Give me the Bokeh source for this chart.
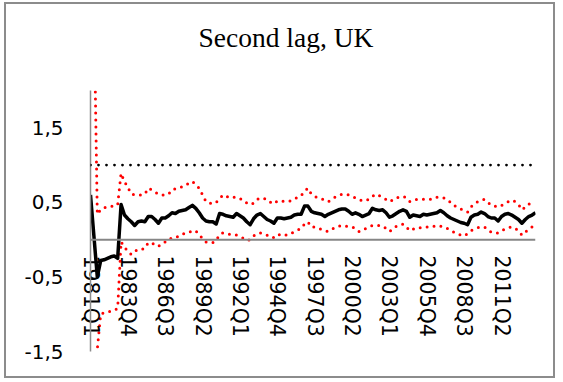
import numpy as np
from bokeh.plotting import figure
from bokeh.models import (Range1d, FixedTicker, CustomJSTickFormatter, Span,
                          ColumnDataSource, LinearAxis, Title)
from bokeh.embed import file_html
from bokeh.resources import INLINE

# ---------------- data ----------------
quarters = [f"{y}Q{q}" for y in range(1981, 2014) for q in range(1, 5)]  # 1981Q1..2013Q4

estimate = [0.60, 0.05, -0.50, -0.28, -0.27, -0.25, -0.23, -0.22, -0.25, 0.47,
            0.33, 0.28, 0.24, 0.19, 0.24, 0.25, 0.24, 0.31, 0.31, 0.27,
            0.22, 0.29, 0.29, 0.32, 0.36, 0.35, 0.38, 0.39, 0.40, 0.43,
            0.46, 0.42, 0.36, 0.29, 0.25, 0.24, 0.24, 0.21, 0.35, 0.34,
            0.32, 0.31, 0.30, 0.35, 0.32, 0.29, 0.24, 0.20, 0.28, 0.33,
            0.35, 0.31, 0.27, 0.25, 0.22, 0.29, 0.29, 0.28, 0.29, 0.30,
            0.33, 0.34, 0.34, 0.45, 0.45, 0.38, 0.36, 0.35, 0.34,
            0.31, 0.34, 0.36, 0.38, 0.40, 0.41, 0.41, 0.38, 0.34, 0.36,
            0.34, 0.31, 0.33, 0.35, 0.42, 0.40, 0.39, 0.40, 0.36, 0.30,
            0.32, 0.35, 0.38, 0.40, 0.38, 0.30, 0.33, 0.32, 0.31, 0.34,
            0.33, 0.34, 0.35, 0.36, 0.39, 0.36, 0.32, 0.29, 0.27, 0.25,
            0.23, 0.22, 0.20, 0.30, 0.33, 0.34, 0.37, 0.35, 0.31, 0.29,
            0.29, 0.25, 0.31, 0.34, 0.35, 0.33, 0.30, 0.27, 0.22, 0.27,
            0.31, 0.33, 0.36]

upper = [np.nan, 3.20, 0.34, 0.40, 0.43, 0.43, 0.44, 0.46, 0.47, 0.89,
         0.78, 0.70, 0.61, 0.60, 0.60, 0.60, 0.61, 0.69, 0.67, 0.64,
         0.61, 0.60, 0.60, 0.61, 0.67, 0.68, 0.69, 0.71, 0.74, 0.75,
         0.78, 0.74, 0.69, 0.60, 0.51, 0.49, 0.48, 0.50, 0.55, 0.60,
         0.58, 0.56, 0.57, 0.57, 0.55, 0.53, 0.49, 0.47, 0.49, 0.54,
         0.56, 0.55, 0.54, 0.50, 0.48, 0.52, 0.52, 0.51, 0.51, 0.52,
         0.54, 0.57, 0.59, 0.65, 0.69, 0.61, 0.58, 0.56, 0.55,
         0.53, 0.51, 0.54, 0.57, 0.59, 0.61, 0.61, 0.60, 0.58, 0.56,
         0.54, 0.52, 0.53, 0.54, 0.58, 0.61, 0.59, 0.57, 0.54, 0.51,
         0.53, 0.56, 0.57, 0.58, 0.56, 0.51, 0.53, 0.54, 0.54, 0.54,
         0.54, 0.54, 0.55, 0.57, 0.57, 0.56, 0.54, 0.50, 0.46, 0.43,
         0.41, 0.39, 0.37, 0.44, 0.48, 0.51, 0.53, 0.54, 0.50, 0.46,
         0.45, 0.44, 0.46, 0.48, 0.51, 0.53, 0.51, 0.47, 0.40, 0.44,
         0.48, 0.46, 0.47]

lower = [np.nan, -3.50, -1.47, -1.00, -0.98, -0.97, -0.96, -0.95, -0.92, -0.03,
         -0.10, -0.16, -0.20, -0.16, -0.13, -0.13, -0.12, -0.04, -0.05, -0.06,
         -0.09, -0.05, -0.03, 0.01, 0.02, 0.02, 0.05, 0.07, 0.09, 0.10,
         0.12, 0.12, 0.06, 0.02, -0.03, -0.04, -0.04, -0.01, 0.07, 0.09,
         0.08, 0.07, 0.07, 0.06, 0.04, 0.02, -0.01, 0.00, 0.05, 0.08,
         0.09, 0.08, 0.06, 0.03, 0.03, 0.07, 0.06, 0.05, 0.07, 0.08,
         0.11, 0.13, 0.15, 0.21, 0.24, 0.17, 0.17, 0.15, 0.14,
         0.12, 0.11, 0.14, 0.16, 0.18, 0.19, 0.18, 0.18, 0.17, 0.15,
         0.11, 0.12, 0.15, 0.17, 0.19, 0.19, 0.19, 0.18, 0.15, 0.11,
         0.14, 0.18, 0.19, 0.21, 0.17, 0.12, 0.14, 0.16, 0.16, 0.16,
         0.17, 0.17, 0.18, 0.19, 0.18, 0.17, 0.15, 0.12, 0.10, 0.08,
         0.06, 0.05, 0.08, 0.12, 0.14, 0.16, 0.17, 0.17, 0.13, 0.10,
         0.09, 0.09, 0.12, 0.14, 0.16, 0.17, 0.15, 0.12, 0.06, 0.10,
         0.14, 0.17, 0.18]

threshold = 1.0

x_tick_labels = ["1981Q1", "1983Q4", "1986Q3", "1989Q2", "1992Q1", "1994Q4",
                 "1997Q3", "2000Q2", "2003Q1", "2005Q4", "2008Q3", "2011Q2"]
y_ticks = [-1.5, -0.5, 0.5, 1.5]
y_tick_labels = ["-1,5", "-0,5", "0,5", "1,5"]

title_text = "Second lag, UK"

# ---------------- figure ----------------
n = len(quarters)
xs = np.arange(n)
src = ColumnDataSource(dict(x=xs,
                            est=np.array(estimate, dtype=float),
                            up=np.array(upper, dtype=float),
                            lo=np.array(lower, dtype=float)))

p = figure(width=551, height=376, output_backend="svg", toolbar_location=None,
           x_range=Range1d(0, n - 1), y_range=Range1d(-1.5, 2.0),
           x_axis_location=None,
           min_border_left=84, min_border_right=22,
           min_border_top=86, min_border_bottom=29)
p.styles = {"border": "2px solid #8c8c8c", "margin": "2px 0 0 4px"}

p.outline_line_color = None
p.grid.grid_line_color = None
p.background_fill_color = "white"
p.border_fill_color = "white"

# spacer (closest to the frame) and the real title above it
p.add_layout(Title(text=" ", text_font_size="1px", standoff=30), "above")
p.add_layout(Title(text=title_text, text_font="Liberation Serif",
                   text_font_size="27.5px", text_font_style="normal",
                   text_color="black", align="left", offset=108, standoff=10),
             "above")

# y axis
ax = p.yaxis[0]
ax.ticker = FixedTicker(ticks=y_ticks)
ax.formatter = CustomJSTickFormatter(
    args=dict(vals=y_ticks, labs=y_tick_labels),
    code="const i = vals.findIndex(v => Math.abs(v - tick) < 1e-9); return i >= 0 ? labs[i] : String(tick);")
ax.major_tick_line_color = None
ax.minor_tick_line_color = None
ax.major_tick_out = 0
ax.major_tick_in = 0
ax.axis_line_color = "#8c8c8c"
ax.axis_line_width = 1.5
ax.major_label_standoff = 27
ax.major_label_text_font = "DejaVu Sans"
ax.major_label_text_font_size = "20px"
ax.major_label_text_color = "black"

# category labels: an axis below whose labels are pulled up into the plot area
lab_idx = [quarters.index(l) for l in x_tick_labels]
xax = LinearAxis(ticker=FixedTicker(ticks=lab_idx),
                 formatter=CustomJSTickFormatter(args=dict(cats=quarters),
                                                 code="return cats[Math.round(tick)];"),
                 major_label_orientation="vertical",
                 major_label_standoff=-96,
                 major_tick_out=0, major_tick_in=0,
                 major_tick_line_color=None, minor_tick_line_color=None,
                 axis_line_color=None,
                 major_label_text_font="DejaVu Sans",
                 major_label_text_font_size="20.5px",
                 major_label_text_color="black")
p.add_layout(xax, "below")

p.add_layout(Span(location=0, dimension="width", line_color="#868686", line_width=2))
p.add_layout(Span(location=threshold, dimension="width", line_color="black",
                  line_width=2.8, line_dash="0 8", line_cap="round"))

p.line("x", "up", source=src, line_color="#ff0000", line_width=3,
       line_dash="0 7", line_cap="round")
p.line("x", "lo", source=src, line_color="#ff0000", line_width=3,
       line_dash="0 7", line_cap="round")
p.line("x", "est", source=src, line_color="black", line_width=3.5, line_join="round")

open("out.html", "w").write(file_html(p, INLINE))
